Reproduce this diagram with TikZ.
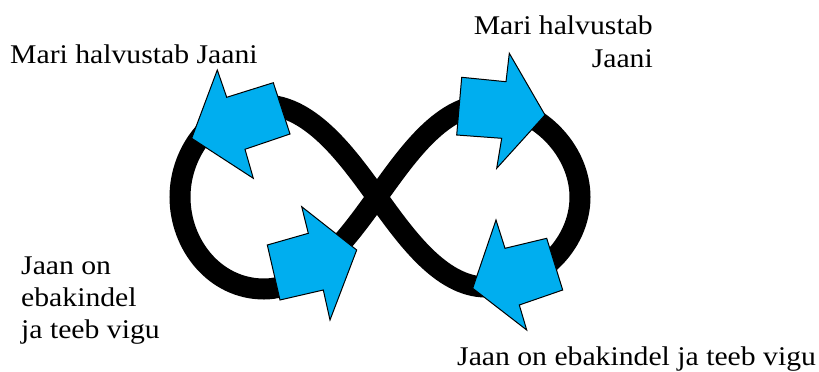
\documentclass[tikz,border=0pt]{standalone}
\usepackage{fontspec}
\setmainfont{Liberation Serif}[FakeStretch=1.1]
\definecolor{arrowblue}{RGB}{0,174,239}
\tikzset{
  eightline/.style={line width=21pt, black},
  blockarrow/.style={fill=arrowblue, draw=black, line width=1pt, line join=miter},
  lbl/.style={inner sep=0pt, font=\fontsize{27}{32}\selectfont}
}
\begin{document}
\begin{tikzpicture}[x=1pt,y=-1pt]
\useasboundingbox (0,0) rectangle (819,372);
% figure eight
\coordinate (C) at (377,197);
\draw[eightline] (C) .. controls (350,160) and (312,105) .. (264,105)
  .. controls (215,105) and (180,150) .. (180,197)
  .. controls (180,245) and (215,289) .. (264,289)
  .. controls (312,289) and (350,234) .. (C)
  .. controls (404,160) and (440,105) .. (486,105)
  .. controls (537,105) and (580,150) .. (580,197)
  .. controls (580,245) and (537,287) .. (486,287)
  .. controls (440,287) and (404,234) .. (C) -- cycle;
% arrows
\draw[blockarrow] (191.7,138.3) -- (217.3,70) -- (226.7,97.3) -- (273.3,82.7) -- (290,134) -- (245,149.3) -- (253.3,178.3) -- cycle;
\draw[blockarrow] (356.7,250) -- (301.7,206.7) -- (308.3,233.3) -- (267.3,245) -- (280,300) -- (323.3,290) -- (330,320) -- cycle;
\draw[blockarrow] (545,115) -- (509.3,53.3) -- (506,81.7) -- (461.7,77.3) -- (456.7,135) -- (501.7,138.3) -- (496.7,168.3) -- cycle;
\draw[blockarrow] (472.7,288.3) -- (496,220) -- (505,248.3) -- (546.7,238.3) -- (562.7,290) -- (519.3,305) -- (526.7,330) -- cycle;
% labels
\node[lbl, anchor=base west] (t1) at (10,63) {Mari halvustab Jaani};
\node[lbl, anchor=base east, align=right, font=\fontsize{27}{33}\selectfont] (t2) at (653,67) {Mari halvustab\\Jaani};
\node[lbl, anchor=base west, align=left] (t3) at (21,338) {Jaan on\\ebakindel\\ja teeb vigu};
\node[lbl, anchor=base west] (t4) at (457,365) {Jaan on ebakindel ja teeb vigu};
\end{tikzpicture}
\end{document}
